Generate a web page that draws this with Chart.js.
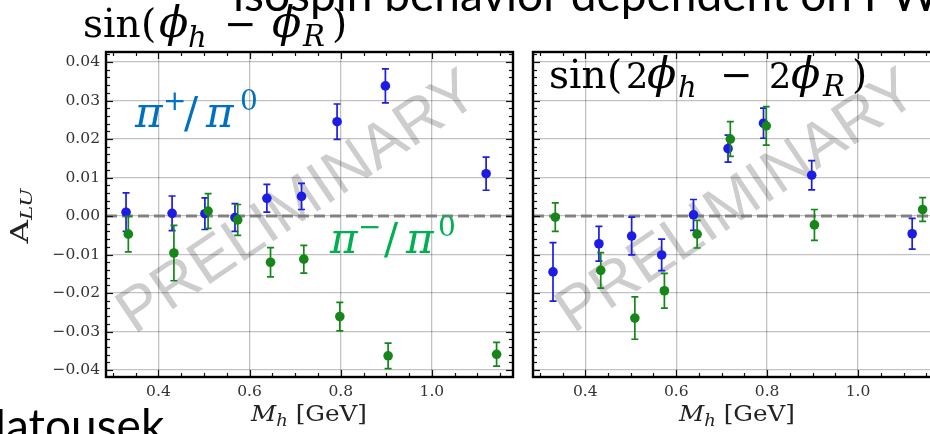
<!DOCTYPE html>
<html>
<head>
<meta charset="utf-8">
<script src="https://cdn.jsdelivr.net/npm/chart.js@4.4.1/dist/chart.umd.min.js"></script>
<style>
  html, body { margin: 0; padding: 0; background: #fff; }
  body { width: 930px; height: 434px; overflow: hidden; position: relative; }
  .layer { position: absolute; left: 0; top: 0; width: 930px; height: 434px; pointer-events: none; }
  #leftBox { position: absolute; left: 0; top: 0; width: 520px; height: 434px; }
  #rightBox { position: absolute; left: 520px; top: 0; width: 430px; height: 434px; }
</style>
</head>
<body>

<!-- watermarks sit beneath the plots -->
<svg class="layer" id="under" xmlns="http://www.w3.org/2000/svg">
  <g font-family="Liberation Sans, Arial, sans-serif" font-size="62" fill="#cdcdcd" text-anchor="middle">
    <text x="296" y="200" dominant-baseline="central" transform="rotate(-34 296 200)">PRELIMINARY</text>
    <text x="735" y="199" dominant-baseline="central" transform="rotate(-34 735 199)">PRELIMINARY</text>
  </g>
</svg>

<div id="leftBox"><canvas id="chartSin1"></canvas></div>
<div id="rightBox"><canvas id="chartSin2"></canvas></div>

<!-- slide text, panel titles and axis titles -->
<svg class="layer" id="over" xmlns="http://www.w3.org/2000/svg">
  <g font-family="Lato, Open Sans, sans-serif" font-size="46" fill="#000">
    <text x="233" y="11">isospin behavior dependent on PW</text>
    <text x="-36" y="442">Matousek</text>
  </g>

  <g font-family="DejaVu Serif, serif" fill="#000">
    <text y="37" font-size="39">
      <tspan x="83">sin</tspan><tspan x="141">(</tspan><tspan x="159" font-size="43" font-style="italic">ϕ</tspan><tspan x="188" dy="10" font-size="29" font-style="italic">h</tspan><tspan x="224" dy="-10">−</tspan><tspan x="272" font-size="43" font-style="italic">ϕ</tspan><tspan x="303" dy="9" font-size="29" font-style="italic">R</tspan><tspan x="332" dy="-9">)</tspan>
    </text>
    <text y="88" font-size="39">
      <tspan x="549">sin</tspan><tspan x="607">(</tspan><tspan x="626" font-size="35">2</tspan><tspan x="647" font-size="43" font-style="italic">ϕ</tspan><tspan x="678" dy="9" font-size="29" font-style="italic">h</tspan><tspan x="720" dy="-9">−</tspan><tspan x="769" font-size="35">2</tspan><tspan x="791" font-size="43" font-style="italic">ϕ</tspan><tspan x="823" dy="8" font-size="29" font-style="italic">R</tspan><tspan x="852" dy="-8">)</tspan>
    </text>
  </g>

  <g font-family="DejaVu Serif, serif" font-size="42">
    <text y="127" fill="#0070C0">
      <tspan x="135" font-style="italic">π</tspan><tspan x="163" dy="-17" font-size="28">+</tspan><tspan x="184" dy="17">/</tspan><tspan x="206" font-style="italic">π</tspan><tspan x="240" dy="-17" font-size="28">0</tspan>
    </text>
    <text y="253" fill="#00B050">
      <tspan x="330" font-style="italic">π</tspan><tspan x="358" dy="-17" font-size="28">−</tspan><tspan x="384" dy="17">/</tspan><tspan x="406" font-style="italic">π</tspan><tspan x="438" dy="-17" font-size="28">0</tspan>
    </text>
  </g>

  <g font-family="DejaVu Serif, serif" fill="#222">
    <text transform="translate(28,216) rotate(-90) scale(1.35,1)" text-anchor="middle" font-size="24">A<tspan font-style="italic" font-size="16" dy="4">LU</tspan></text>
    <text transform="translate(309,421) scale(1.12,1)" text-anchor="middle" font-size="22"><tspan font-style="italic">M</tspan><tspan font-style="italic" font-size="16" dy="5">h</tspan><tspan dy="-5"> [GeV]</tspan></text>
    <text transform="translate(737,421) scale(1.12,1)" text-anchor="middle" font-size="22"><tspan font-style="italic">M</tspan><tspan font-style="italic" font-size="16" dy="5">h</tspan><tspan dy="-5"> [GeV]</tspan></text>
  </g>
</svg>

<script>
// Dihadron invariant-mass bin centres (GeV), slightly offset per channel
const massPiPlus  = [0.329, 0.430, 0.502, 0.568, 0.638, 0.714, 0.792, 0.898, 1.119];
const massPiMinus = [0.334, 0.434, 0.509, 0.574, 0.646, 0.719, 0.798, 0.904, 1.142];

// A_LU, sin(phi_h - phi_R) modulation
const sin1PiPlus     = [0.0010, 0.0007, 0.0006, -0.0004, 0.0046, 0.0051, 0.0245, 0.0338, 0.0110];
const sin1PiPlusErr  = [0.0050, 0.0045, 0.0041, 0.0036, 0.0036, 0.0034, 0.0046, 0.0044, 0.0043];
const sin1PiMinus    = [-0.0047, -0.0096, 0.0013, -0.0010, -0.0120, -0.0112, -0.0261, -0.0363, -0.0359];
const sin1PiMinusErr = [0.0046, 0.0072, 0.0045, 0.0040, 0.0038, 0.0036, 0.0037, 0.0033, 0.0031];

// A_LU, sin(2phi_h - 2phi_R) modulation
const sin2PiPlus     = [-0.0145, -0.0072, -0.0052, -0.0101, 0.0003, 0.0175, 0.0241, 0.0106, -0.0046];
const sin2PiPlusErr  = [0.0076, 0.0045, 0.0049, 0.0041, 0.0040, 0.0035, 0.0039, 0.0038, 0.0040];
const sin2PiMinus    = [-0.0003, -0.0141, -0.0265, -0.0194, -0.0047, 0.0200, 0.0234, -0.0023, 0.0017];
const sin2PiMinusErr = [0.0037, 0.0046, 0.0055, 0.0045, 0.0036, 0.0045, 0.0050, 0.0040, 0.0031];

// Axis ticks
const xTickValues = [0.4, 0.6, 0.8, 1.0];
const yTickValues = [-0.04, -0.03, -0.02, -0.01, 0.00, 0.01, 0.02, 0.03, 0.04];
const xMinorStep = 0.05;
const yMinorStep = 0.002;

const X_MIN = 0.285, X_MAX = 1.178;
const Y_MIN = -0.0418, Y_MAX = 0.0426;

const BLUE = '#1c1ce6';
const GREEN = '#16861a';

function points(xs, ys) { return xs.map((x, i) => ({ x: x, y: ys[i] })); }

function minorValues(lo, hi, step) {
  const out = [];
  const start = Math.ceil(lo / step - 1e-9);
  const end = Math.floor(hi / step + 1e-9);
  for (let k = start; k <= end; k++) out.push(+(k * step).toFixed(6));
  return out;
}

// Zero line, error bars, inward ticks and the heavy frame
const panelPlugin = {
  id: 'panelDecor',
  beforeDatasetsDraw(chart) {
    const { ctx, chartArea: a, scales: { y } } = chart;
    const y0 = y.getPixelForValue(0);
    ctx.save();
    ctx.strokeStyle = 'rgba(120,120,120,0.9)';
    ctx.lineWidth = 3;
    ctx.setLineDash([11, 5]);
    ctx.beginPath();
    ctx.moveTo(a.left, y0);
    ctx.lineTo(a.right, y0);
    ctx.stroke();
    ctx.restore();
  },
  beforeDatasetDraw(chart, args) {
    const ds = chart.data.datasets[args.index];
    if (!ds.errors) return;
    const { ctx, scales: { x, y } } = chart;
    ctx.save();
    ctx.strokeStyle = ds.backgroundColor;
    ctx.lineWidth = 1.7;
    ds.data.forEach((p, i) => {
      const px = x.getPixelForValue(p.x);
      const top = y.getPixelForValue(p.y + ds.errors[i]);
      const bot = y.getPixelForValue(p.y - ds.errors[i]);
      ctx.beginPath();
      ctx.moveTo(px, top); ctx.lineTo(px, bot);
      ctx.moveTo(px - 3.5, top); ctx.lineTo(px + 3.5, top);
      ctx.moveTo(px - 3.5, bot); ctx.lineTo(px + 3.5, bot);
      ctx.stroke();
    });
    ctx.restore();
  },
  afterDraw(chart) {
    const { ctx, chartArea: a, scales: { x, y } } = chart;
    ctx.save();
    ctx.strokeStyle = '#111';
    ctx.lineWidth = 1.2;
    const tick = (x1, y1, x2, y2) => { ctx.beginPath(); ctx.moveTo(x1, y1); ctx.lineTo(x2, y2); ctx.stroke(); };
    minorValues(X_MIN, X_MAX, xMinorStep).forEach(v => {
      const px = Math.round(x.getPixelForValue(v)) + 0.5;
      const major = xTickValues.some(t => Math.abs(t - v) < 1e-6);
      const len = major ? 7 : 4;
      tick(px, a.bottom, px, a.bottom - len);
      tick(px, a.top, px, a.top + len);
    });
    minorValues(Y_MIN, Y_MAX, yMinorStep).forEach(v => {
      const py = Math.round(y.getPixelForValue(v)) + 0.5;
      const major = yTickValues.some(t => Math.abs(t - v) < 1e-6);
      const len = major ? 7 : 4;
      tick(a.left, py, a.left + len, py);
      tick(a.right, py, a.right - len, py);
    });
    ctx.strokeStyle = '#000';
    ctx.lineWidth = 2.4;
    ctx.strokeRect(a.left, a.top, a.right - a.left, a.bottom - a.top);
    ctx.restore();
  }
};

function makePanel(canvasId, plus, plusErr, minus, minusErr, showYLabels, yAxisWidth, padRight) {
  return new Chart(document.getElementById(canvasId), {
    type: 'scatter',
    data: {
      datasets: [
        {
          label: 'π+/π0',
          data: points(massPiPlus, plus),
          errors: plusErr,
          backgroundColor: BLUE,
          borderColor: BLUE,
          borderWidth: 0,
          pointRadius: 4.8,
          order: 2
        },
        {
          label: 'π−/π0',
          data: points(massPiMinus, minus),
          errors: minusErr,
          backgroundColor: GREEN,
          borderColor: GREEN,
          borderWidth: 0,
          pointRadius: 4.8,
          order: 1
        }
      ]
    },
    options: {
      responsive: true,
      maintainAspectRatio: false,
      animation: false,
      layout: { padding: { top: 52, right: padRight, left: 0, bottom: 0 } },
      plugins: { legend: { display: false }, tooltip: { enabled: false } },
      scales: {
        x: {
          type: 'linear',
          min: X_MIN,
          max: X_MAX,
          afterBuildTicks: s => { s.ticks = xTickValues.map(v => ({ value: v })); },
          afterFit: s => { s.height = 57; },
          grid: { color: 'rgba(0,0,0,0.24)', lineWidth: 1.3, drawTicks: false },
          border: { display: false },
          ticks: {
            padding: 6,
            color: '#333',
            font: { family: 'DejaVu Serif', size: 15.5 },
            callback: v => v.toFixed(1)
          }
        },
        y: {
          type: 'linear',
          min: Y_MIN,
          max: Y_MAX,
          afterBuildTicks: s => { s.ticks = yTickValues.map(v => ({ value: v })); },
          afterFit: s => { s.width = yAxisWidth; },
          grid: { color: 'rgba(0,0,0,0.24)', lineWidth: 1.3, drawTicks: false },
          border: { display: false },
          ticks: {
            display: showYLabels,
            padding: 6,
            color: '#333',
            font: { family: 'DejaVu Serif', size: 15.5 },
            callback: v => (v < -1e-9 ? '−' : '') + Math.abs(v).toFixed(2)
          }
        }
      }
    },
    plugins: [panelPlugin]
  });
}

makePanel('chartSin1', sin1PiPlus, sin1PiPlusErr, sin1PiMinus, sin1PiMinusErr, true, 106, 7);
makePanel('chartSin2', sin2PiPlus, sin2PiPlusErr, sin2PiMinus, sin2PiMinusErr, false, 13, 11);
</script>
</body>
</html>
